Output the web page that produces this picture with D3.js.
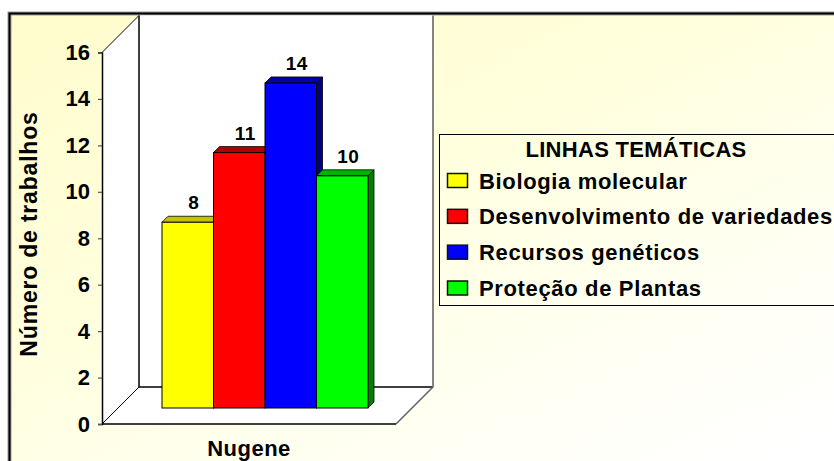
<!DOCTYPE html>
<html>
<head>
<meta charset="utf-8">
<script src="https://cdn.jsdelivr.net/npm/d3@7"></script>
<style>
  html, body { margin: 0; padding: 0; background: #fff; }
  svg { display: block; }
  text { font-family: "Liberation Sans", Arial, sans-serif; font-weight: bold; fill: #000; }
</style>
</head>
<body>
<div id="chart"></div>
<script>
const seriesNames = ["Biologia molecular", "Desenvolvimento de variedades", "Recursos genéticos", "Proteção de Plantas"];
const seriesValues = [8, 11, 14, 10];
const seriesColors = ["#ffff00", "#ff0000", "#0000ff", "#00ff00"];
const topColors = ["#c4c400", "#b00000", "#0000b0", "#00b400"];
const sideColors = ["#8a8a00", "#800000", "#000080", "#008000"];
const yTicks = [0, 2, 4, 6, 8, 10, 12, 14, 16];

const width = 834;
const height = 461;

const svg = d3.select("#chart").append("svg").attr("width", width).attr("height", height);

const grad = svg.append("defs").append("linearGradient")
  .attr("id", "bg")
  .attr("x1", "0%").attr("y1", "0%").attr("x2", "85%").attr("y2", "100%");
grad.append("stop").attr("offset", "0%").attr("stop-color", "#fffccc");
grad.append("stop").attr("offset", "40%").attr("stop-color", "#ffffdc");
grad.append("stop").attr("offset", "70%").attr("stop-color", "#fffff0");
grad.append("stop").attr("offset", "100%").attr("stop-color", "#ffffff");

// chart frame: grey edge with a black core
svg.append("rect")
  .attr("x", 9.5).attr("y", 13.5)
  .attr("width", width + 10).attr("height", height + 10)
  .attr("fill", "url(#bg)")
  .attr("stroke", "#999").attr("stroke-width", 4);
svg.append("rect")
  .attr("x", 9.5).attr("y", 13.5)
  .attr("width", width + 10).attr("height", height + 10)
  .attr("fill", "none")
  .attr("stroke", "#000").attr("stroke-width", 2);

const y = d3.scaleLinear().domain([0, 16]).range([424, 52.5]);
const x = d3.scaleLinear().domain([0, 1]).range([102, 396]);
const depth = 37; // 3D depth of the box
const barInset = 16; // bars sit this far behind the floor front edge
const barX = d3.scaleBand().domain(seriesNames).range([162, 368]);
const barDepth = 6;

// floor and walls
const wall = svg.append("g");
wall.append("polygon")
  .attr("points", [
    [x(0), y(16)], [x(0) + depth, y(16) - depth], [x(1) + depth, y(16) - depth],
    [x(1) + depth, y(0) - depth], [x(1), y(0)], [x(0), y(0)],
  ].join(" "))
  .attr("fill", "#fff");
wall.append("path")
  .attr("d", `M${x(0) + depth},${y(16) - depth}V${y(0) - depth}H${x(1) + depth}`)
  .attr("fill", "none").attr("stroke", "#000").attr("stroke-width", 1.5);
wall.append("path")
  .attr("d", `M${x(1) + depth},${y(16) - depth}V${y(0) - depth}L${x(1)},${y(0)}`)
  .attr("fill", "none").attr("stroke", "#666").attr("stroke-width", 1.6);
wall.append("path")
  .attr("d", `M${x(0)},${y(16)}L${x(0) + depth},${y(16) - depth}M${x(0)},${y(0)}L${x(0) + depth},${y(0) - depth}`)
  .attr("fill", "none").attr("stroke", "#000").attr("stroke-width", 1);
wall.append("path")
  .attr("d", `M${x(0)},${y(0)}H${x(1)}`)
  .attr("fill", "none").attr("stroke", "#000").attr("stroke-width", 1.5);

// bars
const bars = svg.append("g")
  .selectAll("g")
  .data(seriesNames.map((name, i) => ({ name, value: seriesValues[i], i })))
  .join("g");

const barTop = (d) => y(d.value) - barInset;
const barBottom = y(0) - barInset;

bars.append("polygon")
  .attr("points", (d) => {
    const x1 = barX(d.name) + barX.bandwidth();
    return [[x1, barTop(d)], [x1 + barDepth, barTop(d) - barDepth], [x1 + barDepth, barBottom - barDepth], [x1, barBottom]].join(" ");
  })
  .attr("fill", (d) => sideColors[d.i]).attr("stroke", "#000").attr("stroke-width", 0.8);

bars.append("polygon")
  .attr("points", (d) => {
    const x0 = barX(d.name);
    const x1 = x0 + barX.bandwidth();
    return [[x0, barTop(d)], [x0 + barDepth, barTop(d) - barDepth], [x1 + barDepth, barTop(d) - barDepth], [x1, barTop(d)]].join(" ");
  })
  .attr("fill", (d) => topColors[d.i]).attr("stroke", "#000").attr("stroke-width", 0.8);

bars.append("rect")
  .attr("x", (d) => barX(d.name))
  .attr("y", barTop)
  .attr("width", barX.bandwidth())
  .attr("height", (d) => barBottom - barTop(d))
  .attr("fill", (d) => seriesColors[d.i])
  .attr("stroke", "#000").attr("stroke-width", 1);

bars.append("text")
  .attr("x", (d) => barX(d.name) + barX.bandwidth() / 2 + barDepth)
  .attr("y", (d) => barTop(d) - barDepth - 7)
  .attr("text-anchor", "middle")
  .attr("font-size", 19)
  .attr("letter-spacing", 0.5)
  .text((d) => d.value);

// y axis
const yAxis = svg.append("g")
  .attr("transform", `translate(${x(0)},0)`)
  .call(d3.axisLeft(y).tickValues(yTicks).tickSize(4).tickPadding(8));
yAxis.selectAll("text").attr("font-size", 22).attr("font-family", null).style("font-family", '"Liberation Sans", Arial, sans-serif').style("font-weight", "bold");
yAxis.selectAll("line").attr("stroke", "#555").attr("stroke-width", 1.2);
yAxis.select(".domain").attr("stroke", "#000").attr("stroke-width", 1.5);

// axis titles
svg.append("text")
  .attr("transform", "translate(37,234) rotate(-90)")
  .attr("text-anchor", "middle")
  .attr("font-size", 23)
  .attr("letter-spacing", 0.8)
  .text("Número de trabalhos");

svg.append("text")
  .attr("x", 249).attr("y", 456)
  .attr("text-anchor", "middle")
  .attr("font-size", 22)
  .attr("letter-spacing", 0.5)
  .text("Nugene");

// legend
const legend = svg.append("g");
legend.append("rect")
  .attr("x", 439.5).attr("y", 134.5)
  .attr("width", 420).attr("height", 171)
  .attr("fill", "none").attr("stroke", "#000").attr("stroke-width", 1);

legend.append("text")
  .attr("x", 636).attr("y", 157)
  .attr("text-anchor", "middle")
  .attr("font-size", 22)
  .attr("letter-spacing", 0.3)
  .text("LINHAS TEMÁTICAS");

const legendY = d3.scalePoint().domain(seriesNames).range([180.5, 288]);

const rows = legend.selectAll("g.row")
  .data(seriesNames.map((name, i) => ({ name, i })))
  .join("g")
  .attr("class", "row")
  .attr("transform", (d) => `translate(0,${legendY(d.name)})`);

rows.append("rect")
  .attr("x", 447.5).attr("y", -7)
  .attr("width", 20).attr("height", 14)
  .attr("fill", (d) => seriesColors[d.i])
  .attr("stroke", "#111").attr("stroke-width", 1.5);

rows.append("text")
  .attr("x", 479).attr("y", 8)
  .attr("font-size", 22)
  .attr("letter-spacing", 0.65)
  .text((d) => d.name);
</script>
</body>
</html>
